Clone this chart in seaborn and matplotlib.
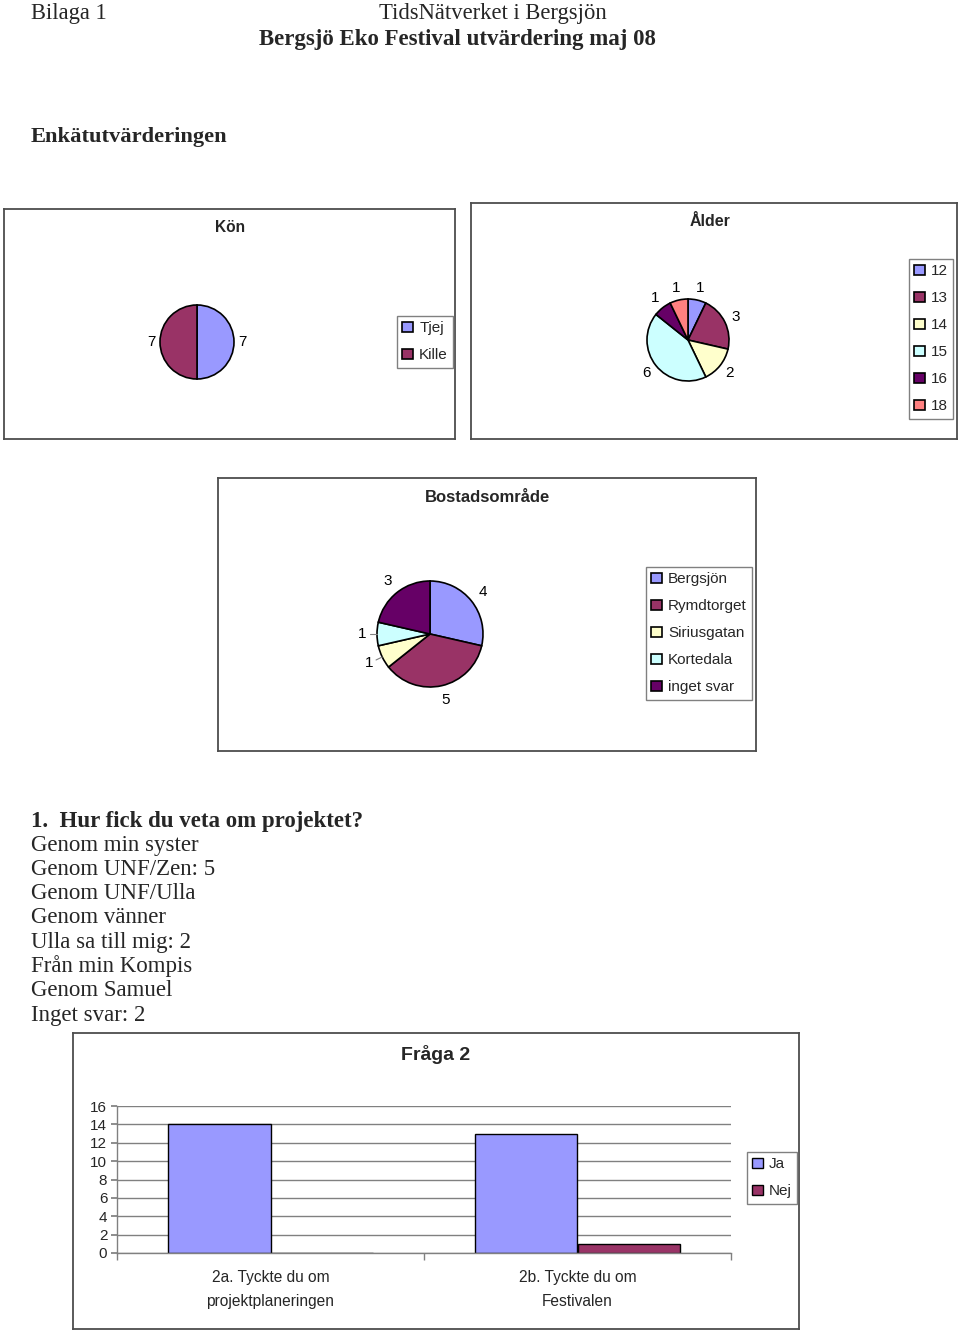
import numpy as np
import pandas as pd
import matplotlib
matplotlib.use('Agg')
import matplotlib.pyplot as plt
import seaborn as sns

# ---------------------------------------------
# Data
# ---------------------------------------------
kon_labels = ['Tjej', 'Kille']
kon_values = [7, 7]

alder_labels = ['12', '13', '14', '15', '16', '18']
alder_values = [1, 3, 2, 6, 1, 1]

bostad_labels = ['Bergsjön', 'Rymdtorget', 'Siriusgatan', 'Kortedala', 'inget svar']
bostad_values = [4, 5, 1, 1, 3]

fraga_kategorier = ['2a. Tyckte du om\nprojektplaneringen', '2b. Tyckte du om\nFestivalen']
fraga_ja = [14, 13]
fraga_nej = [0, 1]

svar_rader = ['Genom min syster', 'Genom UNF/Zen: 5', 'Genom UNF/Ulla', 'Genom vänner',
              'Ulla sa till mig: 2', 'Från min Kompis', 'Genom Samuel', 'Inget svar: 2']

# Excel-färger
BLA = '#9999FF'
LILA = '#993366'
GUL = '#FFFFCC'
CYAN = '#CCFFFF'
MORK = '#660066'
LAX = '#FF8080'

# ---------------------------------------------
# Setup
# ---------------------------------------------
sns.set_theme(style='white')
plt.rcParams['font.family'] = ['Liberation Sans', 'DejaVu Sans']

W, H = 960, 1333
fig = plt.figure(figsize=(W / 100, H / 100), dpi=100)
fig.patch.set_facecolor('white')


def rect(x0, y0, x1, y1):
    return [x0 / W, 1 - y1 / H, (x1 - x0) / W, (y1 - y0) / H]


def fpos(x, y):
    return x / W, 1 - y / H


def ram(x0, y0, x1, y1):
    a = fig.add_axes(rect(x0, y0, x1, y1))
    a.set_xticks([])
    a.set_yticks([])
    for s in a.spines.values():
        s.set_color('#4d4d4d')
        s.set_linewidth(1.3)
        s.set_visible(True)
    a.set_zorder(0)
    return a


def legend_at(a, handles, labels, xy):
    leg = a.legend(handles, labels, loc='upper left', bbox_to_anchor=fpos(*xy),
                   bbox_transform=fig.transFigure, frameon=True, fancybox=False,
                   edgecolor='#808080', framealpha=1, fontsize=11, borderpad=0.35,
                   handlelength=0.7, handleheight=0.7, handletextpad=0.4,
                   labelspacing=0.85, borderaxespad=0)
    leg.get_frame().set_linewidth(1)
    return leg


def paj(cx, cy, r, values, labels, colors, dist, leg_xy, leader=False):
    a = fig.add_axes(rect(cx - 1.6 * r, cy - 1.6 * r, cx + 1.6 * r, cy + 1.6 * r))
    a.set_zorder(1)
    total = sum(values)
    wedges, texts, autotexts = a.pie(
        values, colors=colors, startangle=90, counterclock=False,
        wedgeprops=dict(edgecolor='black', linewidth=1.2),
        autopct=lambda p: f"{p * total / 100:.0f}", pctdistance=dist,
        textprops=dict(fontsize=11, color='black'))
    if leader:
        for w, v in zip(wedges, values):
            if v == 1:
                th = np.deg2rad((w.theta1 + w.theta2) / 2)
                a.plot([1.0 * np.cos(th), 1.13 * np.cos(th)],
                       [1.0 * np.sin(th), 1.13 * np.sin(th)], color='#808080', lw=0.8)
    a.set_xlim(-1.6, 1.6)
    a.set_ylim(-1.6, 1.6)
    a.axis('off')
    legend_at(a, wedges, labels, leg_xy)
    return a


# ---------------------------------------------
# Dokumenttext
# ---------------------------------------------
serif = ['Liberation Serif', 'DejaVu Serif']
fig.text(*fpos(31, 13), 'Bilaga 1', family=serif, fontsize=16.3, va='center', ha='left')
fig.text(*fpos(493, 13), 'TidsNätverket i Bergsjön', family=serif, fontsize=16.3, va='center', ha='center')
fig.text(*fpos(457, 39), 'Bergsjö Eko Festival utvärdering maj 08', family=serif, fontsize=16.5,
         fontweight='bold', va='center', ha='center')
fig.text(*fpos(31, 137), 'Enkätutvärderingen', family=serif, fontsize=16.2, fontweight='bold',
         va='center', ha='left')

fig.text(*fpos(31, 821), '1.  Hur fick du veta om projektet?', family=serif, fontsize=16.5,
         fontweight='bold', va='center', ha='left')
for i, rad in enumerate(svar_rader):
    fig.text(*fpos(31, 845 + i * 24.3), rad, family=serif, fontsize=16.5, va='center', ha='left')

# ---------------------------------------------
# Kön
# ---------------------------------------------
ram(4, 209, 455, 439)
fig.text(*fpos(230, 227), 'Kön', fontsize=11.2, fontweight='bold', ha='center', va='center')
paj(197, 342, 37, kon_values, kon_labels, [BLA, LILA], 1.24, (397, 316))

# ---------------------------------------------
# Ålder
# ---------------------------------------------
ram(471, 203, 957, 439)
fig.text(*fpos(710, 221), 'Ålder', fontsize=11.5, fontweight='bold', ha='center', va='center')
paj(688, 340, 41, alder_values, alder_labels, [BLA, LILA, GUL, CYAN, MORK, LAX], 1.3, (909, 259))

# ---------------------------------------------
# Bostadsområde
# ---------------------------------------------
ram(218, 478, 756, 751)
fig.text(*fpos(488, 498), 'Bostadsområde', fontsize=12, fontweight='bold', ha='center', va='center')
paj(430, 634, 53, bostad_values, bostad_labels, [BLA, LILA, GUL, CYAN, MORK], 1.28, (646, 567),
    leader=True)

# ---------------------------------------------
# Fråga 2
# ---------------------------------------------
ram(73, 1033, 799, 1329)
fig.text(*fpos(436, 1055), 'Fråga 2', fontsize=14, fontweight='bold', ha='center', va='center')

df = pd.DataFrame({
    'fraga': fraga_kategorier * 2,
    'svar': ['Ja'] * len(fraga_ja) + ['Nej'] * len(fraga_nej),
    'antal': fraga_ja + fraga_nej,
})

ax = fig.add_axes(rect(117, 1106, 731, 1253))
ax.set_zorder(1)
sns.barplot(data=df, x='fraga', y='antal', hue='svar', palette=[BLA, LILA], width=2 / 3,
            gap=0, saturation=1, edgecolor='black', linewidth=1, ax=ax)
ax.set_xlim(-0.5, 1.5)
ax.set_ylim(0, 16)
ax.set_yticks(range(0, 17, 2))
ax.yaxis.grid(True, color='#808080', lw=1)
ax.set_axisbelow(True)
ax.set_xlabel('')
ax.set_ylabel('')
ax.patch.set_alpha(0)
for s in ['top', 'right']:
    ax.spines[s].set_visible(False)
for s in ['left', 'bottom']:
    ax.spines[s].set_color('#808080')
    ax.spines[s].set_linewidth(1)
ax.set_xticks([-0.5, 0.5, 1.5], minor=True)
ax.tick_params(axis='x', which='minor', length=5, color='#808080', direction='out', bottom=True)
ax.tick_params(axis='x', which='major', length=0, pad=12, labelsize=11.2)
ax.tick_params(axis='y', length=4, color='#808080', direction='out', left=True, pad=3, labelsize=11)
for t in ax.get_xticklabels():
    t.set_linespacing(1.75)

handles, labels = ax.get_legend_handles_labels()
legend_at(ax, handles, labels, (747, 1152))

plt.savefig('out.png', dpi=100, facecolor='white')
